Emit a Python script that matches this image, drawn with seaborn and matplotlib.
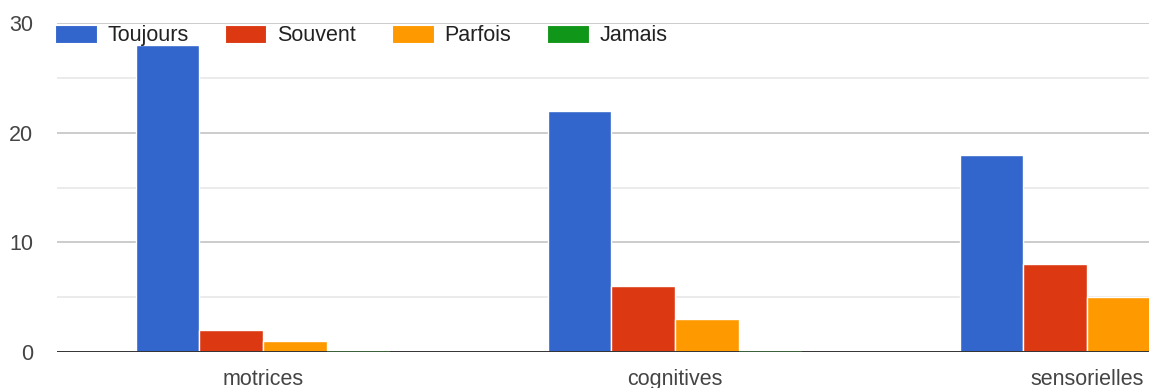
import matplotlib
matplotlib.use("Agg")
import matplotlib.pyplot as plt
from matplotlib.patches import Patch
from matplotlib.ticker import MultipleLocator
import pandas as pd
import seaborn as sns

# Survey answers per type of impairment
categories = ["motrices", "cognitives", "sensorielles"]
frequencies = ["Toujours", "Souvent", "Parfois", "Jamais"]
toujours = [28, 22, 18]
souvent = [2, 6, 8]
parfois = [1, 3, 5]
jamais = [0, 0, 0]
y_ticks = [0, 10, 20, 30]

colors = ["#3366cc", "#dc3912", "#ff9900", "#109618"]

rows = []
for freq, vals in zip(frequencies, [toujours, souvent, parfois, jamais]):
    for cat, v in zip(categories, vals):
        rows.append({"categorie": cat, "frequence": freq, "valeur": v})
df = pd.DataFrame(rows)

sns.set_theme(style="white")
plt.rcParams["font.family"] = ["Liberation Sans", "DejaVu Sans"]

W, H = 1149, 388
fig = plt.figure(figsize=(W / 100, H / 100), dpi=100)
# plot area runs past the right edge of the canvas
left_px, top_px, base_px, band_px = 57, 23, 352, 412
ax = fig.add_axes([left_px / W, (H - base_px) / H,
                   3 * band_px / W, (base_px - top_px) / H])

sns.barplot(data=df, x="categorie", y="valeur", hue="frequence",
            hue_order=frequencies, order=categories, palette=colors,
            saturation=1, width=0.617, edgecolor="white", linewidth=1.0,
            errorbar=None, legend=False, ax=ax, zorder=3)

for p in ax.patches:
    if p.get_height() == 0:
        p.set_edgecolor("#3d6b3d")
        p.set_linewidth(1.2)
        p.set_zorder(6)

ax.set_xlim(-0.5, 2.5)
ax.set_ylim(0, 30)
ax.set_yticks(y_ticks)
ax.yaxis.set_minor_locator(MultipleLocator(5))
ax.grid(False)
for y in [5, 15, 25]:
    ax.axhline(y, color="#ebebeb", lw=1.4, zorder=1)
for y in [10, 20, 30]:
    ax.axhline(y, color="#cccccc", lw=1.4, zorder=1)
ax.axhline(0, color="#333333", lw=1.4, zorder=5)

for s in ax.spines.values():
    s.set_visible(False)
ax.set_xlabel("")
ax.set_ylabel("")
ax.tick_params(axis="both", length=0, labelsize=15.5, labelcolor="#444444")
ax.tick_params(axis="y", pad=17)
ax.tick_params(axis="x", pad=12)

handles = [Patch(facecolor=c, edgecolor="white", linewidth=0.8) for c in colors]
fig.legend(handles, frequencies, loc="upper left",
           bbox_to_anchor=(55 / W, 1 - 25 / H), ncol=4, frameon=False,
           fontsize=15.5, handlelength=1.95, handleheight=0.9,
           handletextpad=0.5, columnspacing=1.65, borderpad=0,
           borderaxespad=0, labelcolor="#222222")

fig.savefig("out.png", dpi=100)
